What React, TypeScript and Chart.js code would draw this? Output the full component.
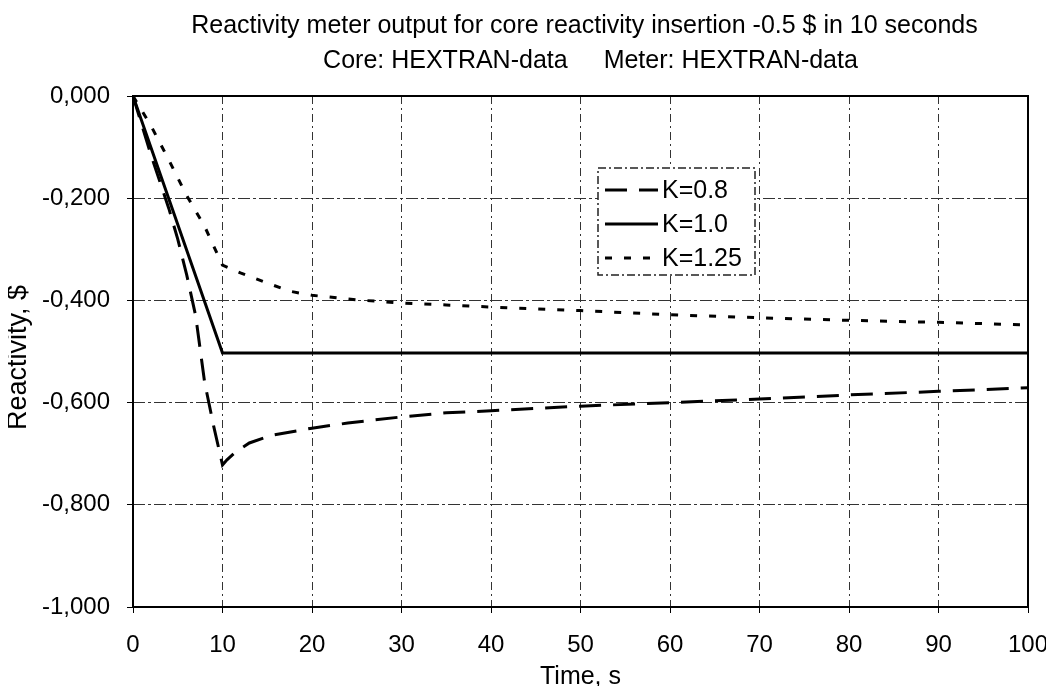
import React, { useEffect, useRef } from 'react';
import { Chart, registerables } from 'chart.js';

Chart.register(...registerables);

const FONT = '"Liberation Sans", Arial, Helvetica, sans-serif';

const titleLine1 = 'Reactivity meter output for core reactivity insertion -0.5 $ in 10 seconds';
const titleLine2a = 'Core: HEXTRAN-data';
const titleLine2b = 'Meter: HEXTRAN-data';
const xAxisTitle = 'Time, s';
const yAxisTitle = 'Reactivity, $';

const seriesNames = ['K=0.8', 'K=1.0', 'K=1.25'];

const timeK08 = [0, 2, 4, 5, 6, 7, 8, 9, 10, 10.5, 11.5, 13, 15.5, 20, 24, 30, 35, 40, 50, 60, 70, 80, 90, 100];
const valK08 = [0, -0.115, -0.22, -0.28, -0.35, -0.43, -0.56, -0.645, -0.722, -0.712, -0.696, -0.679, -0.664, -0.65, -0.64, -0.628, -0.62, -0.616, -0.607, -0.6, -0.593, -0.585, -0.578, -0.571];

const timeK10 = [0, 10, 100];
const valK10 = [0, -0.503, -0.503];

const timeK125 = [0, 2, 4, 6, 8, 10, 12, 15, 17.5, 20, 25, 30, 35, 40, 50, 60, 70, 80, 90, 100];
const valK125 = [0, -0.058, -0.125, -0.195, -0.255, -0.331, -0.346, -0.366, -0.382, -0.39, -0.399, -0.405, -0.409, -0.413, -0.42, -0.428, -0.434, -0.439, -0.443, -0.448];

const xTickValues = [0, 10, 20, 30, 40, 50, 60, 70, 80, 90, 100];
const xTickLabels = ['0', '10', '20', '30', '40', '50', '60', '70', '80', '90', '100'];
const yTickValues = [-1, -0.8, -0.6, -0.4, -0.2, 0];
const yTickLabels = ['-1,000', '-0,800', '-0,600', '-0,400', '-0,200', '0,000'];

const CANVAS_W = 1046;
const CANVAS_H = 678;

const zip = (xs: number[], ys: number[]) => xs.map((x, i) => ({ x, y: ys[i] }));

const framePlugin = {
  id: 'frameAndText',
  beforeDatasetsDraw(chart: any) {
    const { ctx, chartArea: a } = chart;
    ctx.save();
    ctx.strokeStyle = '#000';
    ctx.lineWidth = 2;
    ctx.setLineDash([]);
    ctx.strokeRect(a.left, a.top, a.right - a.left, a.bottom - a.top);
    ctx.restore();
  },
  afterDraw(chart: any) {
    const { ctx, chartArea: a } = chart;
    const cx = (a.left + a.right) / 2;
    ctx.save();
    ctx.fillStyle = '#000';
    ctx.font = `25px ${FONT}`;
    ctx.textAlign = 'center';
    ctx.textBaseline = 'alphabetic';
    ctx.fillText(titleLine1, cx + 4, 25);
    const w2a = ctx.measureText(titleLine2a).width;
    const w2b = ctx.measureText(titleLine2b).width;
    const gap = 36;
    const start = cx + 10 - (w2a + gap + w2b) / 2;
    ctx.textAlign = 'left';
    ctx.fillText(titleLine2a, start, 60);
    ctx.fillText(titleLine2b, start + w2a + gap, 60);
    // x tick labels (drawn here so the last one is not clipped)
    const xs = chart.scales.x;
    ctx.font = `24px ${FONT}`;
    ctx.textAlign = 'center';
    ctx.textBaseline = 'middle';
    xTickValues.forEach((v, i) => {
      ctx.fillText(xTickLabels[i], xs.getPixelForValue(v), a.bottom + 38);
    });
    // axis titles
    ctx.font = `25px ${FONT}`;
    ctx.fillText(xAxisTitle, cx, 669);
    ctx.save();
    ctx.translate(11, (a.top + a.bottom) / 2 + 6);
    ctx.rotate(-Math.PI / 2);
    ctx.font = `27px ${FONT}`;
    ctx.fillText(yAxisTitle, 0, 0);
    ctx.restore();
    ctx.restore();
  },
  afterDatasetsDraw(chart: any) {
    const { ctx, chartArea: a } = chart;
    const L = a.left + 465;
    const T = a.top + 72;
    const W = 157;
    const H = 107;
    ctx.save();
    ctx.fillStyle = '#fff';
    ctx.fillRect(L, T, W, H);
    ctx.strokeStyle = '#222';
    ctx.lineWidth = 1.5;
    ctx.setLineDash([8, 3, 2, 3]);
    ctx.strokeRect(L, T, W, H);
    chart.data.datasets.forEach((ds: any, i: number) => {
      const y = T + 22 + i * 34;
      ctx.setLineDash(ds.borderDash || []);
      ctx.lineWidth = ds.borderWidth;
      ctx.strokeStyle = ds.borderColor;
      ctx.beginPath();
      ctx.moveTo(L + 7, y);
      ctx.lineTo(L + 60, y);
      ctx.stroke();
      ctx.setLineDash([]);
      ctx.fillStyle = '#000';
      ctx.font = `25px ${FONT}`;
      ctx.textBaseline = 'middle';
      ctx.textAlign = 'left';
      ctx.fillText(ds.label, L + 64, y + 1);
    });
    ctx.restore();
  },
};

export default function App() {
  const canvasRef = useRef<HTMLCanvasElement | null>(null);

  useEffect(() => {
    if (!canvasRef.current) return;
    const chart = new Chart(canvasRef.current, {
      type: 'line',
      data: {
        datasets: [
          {
            label: seriesNames[0],
            data: zip(timeK08, valK08),
            borderColor: '#000',
            borderWidth: 3,
            borderDash: [22, 12],
            pointRadius: 0,
            tension: 0,
            fill: false,
          },
          {
            label: seriesNames[1],
            data: zip(timeK10, valK10),
            borderColor: '#000',
            borderWidth: 3,
            borderDash: [],
            pointRadius: 0,
            tension: 0,
            fill: false,
          },
          {
            label: seriesNames[2],
            data: zip(timeK125, valK125),
            borderColor: '#000',
            borderWidth: 3,
            borderDash: [7, 12],
            pointRadius: 0,
            tension: 0,
            fill: false,
          },
        ],
      },
      options: {
        animation: false,
        responsive: false,
        maintainAspectRatio: false,
        devicePixelRatio: 1,
        layout: { padding: { top: 88, right: 26, left: 0, bottom: 0 } },
        plugins: {
          legend: { display: false },
          title: { display: false },
          tooltip: { enabled: false },
        },
        scales: {
          x: {
            type: 'linear',
            min: 0,
            max: 100,
            afterBuildTicks: (scale: any) => {
              scale.ticks = xTickValues.map((v) => ({ value: v }));
            },
            afterFit: (scale: any) => {
              scale.height = 79;
              scale.paddingRight = 26;
            },
            ticks: {
              display: false,
              autoSkip: false,
              maxRotation: 0,
            },
            grid: {
              color: '#333',
              lineWidth: 1,
              tickLength: 6,
              tickColor: '#000',
            },
            border: { display: false, dash: [8, 4, 2, 4] },
          },
          y: {
            type: 'linear',
            min: -1,
            max: 0,
            afterBuildTicks: (scale: any) => {
              scale.ticks = yTickValues.map((v) => ({ value: v }));
            },
            afterFit: (scale: any) => {
              scale.width = 125;
            },
            ticks: {
              autoSkip: false,
              padding: 17,
              color: '#000',
              font: { family: FONT, size: 24 },
              callback: (value: any) => yTickLabels[yTickValues.indexOf(Number(value))],
            },
            grid: {
              color: '#333',
              lineWidth: 1,
              tickLength: 6,
              tickColor: '#000',
            },
            border: { display: false, dash: [12, 3, 3, 3] },
          },
        },
      },
      plugins: [framePlugin],
    } as any);
    return () => chart.destroy();
  }, []);

  return (
    <div style={{ width: CANVAS_W, height: CANVAS_H, position: 'relative' }}>
      <canvas
        ref={canvasRef}
        width={CANVAS_W}
        height={CANVAS_H}
        style={{ display: 'block', width: CANVAS_W, height: CANVAS_H }}
      />
    </div>
  );
}
